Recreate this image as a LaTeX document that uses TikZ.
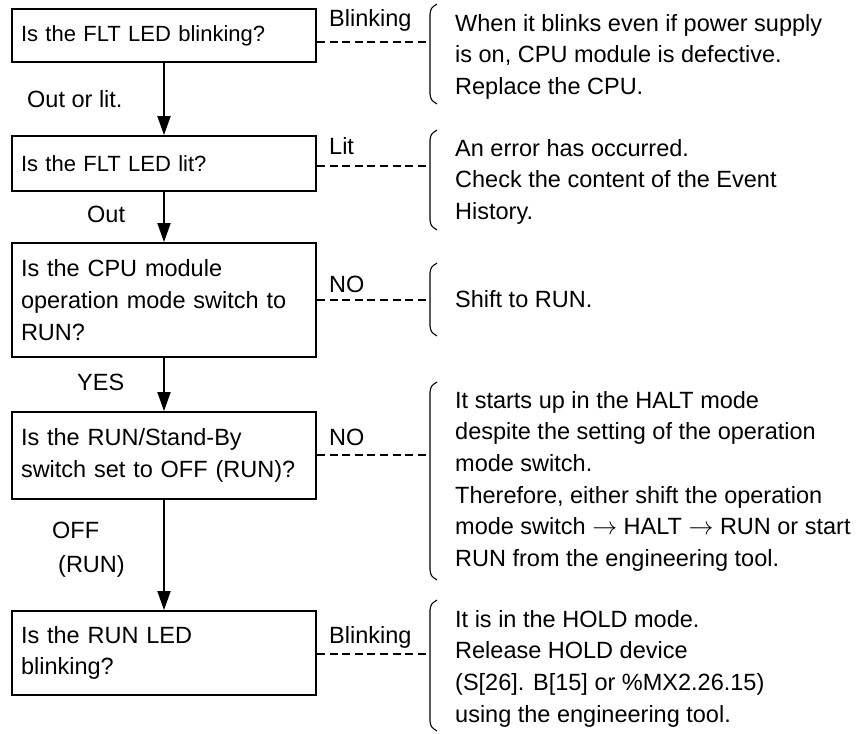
\documentclass[tikz,border=0pt]{standalone}
\usepackage{fontspec}
\setmainfont{Liberation Sans}
\usetikzlibrary{arrows.meta}
\newcommand{\rarr}{$\rightarrow$}
\begin{document}
\begin{tikzpicture}[x=1pt,y=-1pt,
  every node/.style={font=\fontsize{23.5}{31.6}\selectfont, inner sep=0pt},
  box/.style={draw, line width=1.8pt, text width=286pt, inner xsep=9pt, inner ysep=0pt, minimum width=304pt, align=left},
  smallbox/.style={box, font=\fontsize{22}{30}\selectfont},
  arr/.style={line width=1.8pt, -{Triangle[length=19pt,width=13pt]}},
  dashline/.style={line width=1.3pt, dash pattern=on 8pt off 4.6pt},
  brace/.style={line width=1.1pt},
  lbl/.style={anchor=base west},
  note/.style={anchor=north west, align=left}]
\useasboundingbox (0,0) rectangle (864,733);

% decision boxes
\node[smallbox, minimum height=53pt] (b1) at (164,35.5) {Is the FLT LED blinking?};
\node[smallbox, minimum height=55pt] (b2) at (164,163.5) {Is the FLT LED lit?};
\node[box, minimum height=114pt] (b3) at (164,300) {Is the CPU module\\operation mode switch to\\RUN?};
\node[box, minimum height=87pt] (b4) at (164,455.5) {Is the RUN/Stand-By\\switch set to OFF (RUN)?};
\node[box, minimum height=84pt] (b5) at (164,653) {Is the RUN LED\\blinking?};

% flow arrows
\draw[arr] (b1.south) -- (b2.north);
\draw[arr] (b2.south) -- (b3.north);
\draw[arr] (b3.south) -- (b4.north);
\draw[arr] (b4.south) -- (b5.north);

% flow labels
\node[lbl] (l1) at (27,107) {Out or lit.};
\node[lbl] (l2) at (87,222) {Out};
\node[lbl] (l3) at (77,390) {YES};
\node[lbl] (l4) at (52,538) {OFF};
\node[lbl] (l5) at (58,572) {(RUN)};

% branch labels
\node[lbl] (r1) at (329,27) {Blinking};
\node[lbl] (r2) at (329,154) {Lit};
\node[lbl] (r3) at (329,292) {NO};
\node[lbl] (r4) at (329,445) {NO};
\node[lbl] (r5) at (329,643) {Blinking};

% brace mid points
\coordinate (m1) at (430,42);
\coordinate (m2) at (430,166);
\coordinate (m3) at (430,300);
\coordinate (m4) at (430,455);
\coordinate (m5) at (430,654);

% dashed connectors
\draw[dashline] (b1.east |- m1) -- (m1);
\draw[dashline] (b2.east |- m2) -- (m2);
\draw[dashline] (b3.east |- m3) -- (m3);
\draw[dashline] (b4.east |- m4) -- (m4);
\draw[dashline] (b5.east |- m5) -- (m5);

% braces
\draw[brace] (437,4) .. controls (431,8) .. (430,14) -- (430,94) .. controls (431,100) .. (437,104);
\draw[brace] (437,130) .. controls (431,134) .. (430,140) -- (430,220) .. controls (431,226) .. (437,230);
\draw[brace] (437,263) .. controls (431,267) .. (430,273) -- (430,326) .. controls (431,332) .. (437,336);
\draw[brace] (437,382) .. controls (431,386) .. (430,392) -- (430,570) .. controls (431,576) .. (437,580);
\draw[brace] (437,600) .. controls (431,604) .. (430,610) -- (430,721) .. controls (431,727) .. (437,731);

% notes
\node[note] (t1) at (455,14) {When it blinks even if power supply\\is on, CPU module is defective.\\Replace the CPU.};
\node[note] (t2) at (455,139) {An error has occurred.\\Check the content of the Event\\History.};
\node[note] (t3) at (455,290) {Shift to RUN.};
\node[note] (t4) at (455,391) {It starts up in the HALT mode\\despite the setting of the operation\\mode switch.\\Therefore, either shift the operation\\mode switch \rarr{} HALT \rarr{} RUN or start\\RUN from the engineering tool.};
\node[note] (t5) at (455,610) {It is in the HOLD mode.\\Release HOLD device\\(S[26]. B[15] or \%MX2.26.15)\\using the engineering tool.};
\end{tikzpicture}
\end{document}
